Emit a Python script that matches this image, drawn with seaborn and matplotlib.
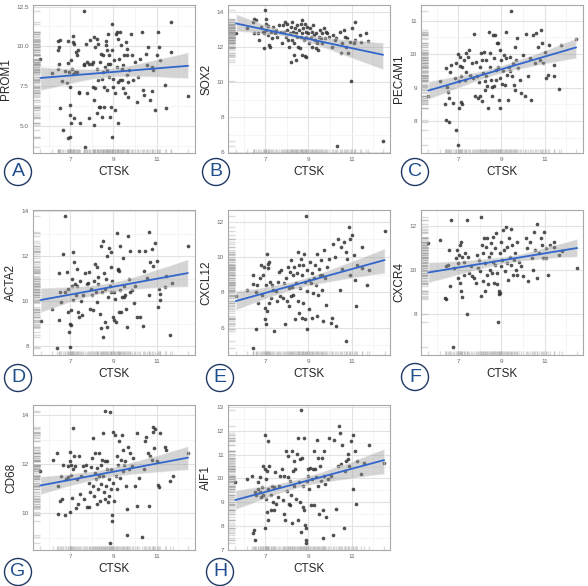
import matplotlib
matplotlib.use("Agg")
import matplotlib.pyplot as plt
from matplotlib.patches import Circle
from matplotlib.ticker import MultipleLocator, AutoMinorLocator, FormatStrFormatter
import seaborn as sns

# values (CTSK on x, gene on y)
prom1_ctsk = [5.62,6.15,6.42,6.46,6.42,6.54,6.5,6.5,6.54,6.65,6.6,6.77,6.85,6.88,6.92,6.95,6.98,7.0,7.0,7.03,6.92,7.0,7.05,7.08,7.11,7.15,7.11,7.18,7.23,7.31,7.28,7.18,7.34,7.38,7.43,7.43,7.46,7.65,7.62,7.62,7.69,7.74,7.77,7.8,7.85,7.88,7.92,8.0,8.05,8.08,8.11,8.12,8.12,8.15,8.15,8.23,8.23,8.26,8.31,8.31,8.34,8.38,8.38,8.42,8.46,8.46,8.51,8.54,8.57,8.58,8.62,8.65,8.66,8.69,8.72,8.72,8.75,8.77,8.8,8.82,8.85,8.85,8.88,8.92,8.92,8.92,8.97,9.0,9.03,9.08,9.08,9.12,9.15,9.18,9.2,9.23,9.23,9.28,9.31,9.31,9.34,9.38,9.38,9.43,9.46,9.49,9.54,9.58,9.62,9.62,9.65,9.69,9.69,9.74,9.8,9.85,9.92,10.0,10.08,10.15,10.23,10.31,10.38,10.42,10.51,10.54,10.62,10.69,10.77,10.77,10.85,10.92,11.0,11.08,11.12,11.15,11.38,11.46,11.65,11.69,12.46]
prom1 = [9.19,8.33,8.6,9.75,10.33,10.38,9.96,8.92,6.15,4.75,7.81,8.46,7.67,10.33,8.98,8.4,7.46,6.31,5.69,5.17,4.23,4.3,9.17,8.6,8.29,10.63,10.27,10.17,8.4,9.44,9.65,5.48,8.4,9.75,7.15,7.04,5.17,12.25,8.81,8.92,3.7,10.17,9.02,7.04,8.92,5.48,10.38,8.88,7.46,9.02,10.58,6.62,5.06,9.96,7.36,10.48,8.6,5.79,10.17,7.88,6.21,9.02,6.21,9.54,7.98,5.58,8.4,9.44,7.46,6.21,8.71,10.31,10.06,9.75,8.5,7.25,8.92,10.79,8.08,9.44,8.92,5.58,6.21,9.75,11.42,4.33,7.46,7.98,9.12,7.04,6.0,10.79,10.9,8.71,7.77,5.17,10.48,9.23,7.88,10.9,10.06,8.6,7.88,7.36,8.81,9.44,7.04,10.27,9.85,8.19,9.44,7.77,6.79,8.5,10.79,9.44,7.88,9.02,6.52,8.08,9.23,10.9,7.25,6.94,9.54,8.81,9.96,6.62,7.21,8.71,8.5,6.0,9.44,10.9,9.96,9.12,7.56,6.1,11.52,9.65,6.88]

sox2_ctsk = [5.65,6.18,6.42,6.49,6.57,6.49,6.65,6.72,6.8,6.88,6.95,7.0,7.03,7.06,6.95,7.06,7.11,7.15,7.18,7.22,7.26,7.34,7.37,7.46,7.49,7.57,7.65,7.72,7.77,7.83,7.88,7.92,7.95,8.03,8.03,8.08,8.11,8.14,8.18,8.18,8.23,8.26,8.29,8.34,8.34,8.38,8.42,8.45,8.49,8.49,8.54,8.57,8.6,8.65,8.65,8.69,8.72,8.72,8.75,8.8,8.85,8.85,8.88,8.91,8.91,8.95,9.0,9.03,9.06,9.11,9.15,9.18,9.22,9.26,9.31,9.34,9.37,9.42,9.46,9.49,9.52,9.57,9.62,9.65,9.72,9.77,9.8,9.88,9.95,10.08,10.14,10.23,10.26,10.34,10.45,10.49,10.57,10.65,10.69,10.72,10.8,10.85,10.91,10.97,11.03,11.11,11.15,11.18,11.37,11.42,11.65,11.77,12.46]
sox2 = [12.78,13.06,13.44,13.62,13.53,12.78,12.78,12.4,13.15,12.87,12.78,14.09,13.62,13.34,11.93,12.96,12.68,13.19,12.12,12.02,12.87,12.49,13.15,12.78,12.96,12.59,13.25,12.87,12.21,13.25,12.87,13.44,12.59,13.34,12.96,12.4,12.02,12.78,11.14,13.15,12.4,13.44,12.87,11.55,12.21,13.06,12.78,11.27,13.25,12.59,12.02,12.96,11.93,13.34,12.59,11.55,13.53,12.78,13.06,12.4,13.34,11.46,12.87,11.42,12.59,13.15,12.78,12.21,13.06,12.59,12.87,12.02,13.25,12.68,12.4,12.78,11.93,12.21,11.83,12.59,12.96,12.49,12.21,12.78,13.06,12.49,12.87,12.78,12.59,12.02,12.68,12.4,12.49,6.37,12.87,11.65,12.21,12.96,12.59,12.02,12.49,11.68,12.31,10.05,13.06,12.21,13.44,12.4,12.68,12.31,12.81,12.36,6.66]

pecam1_ctsk = [5.62,6.15,6.38,6.42,6.57,6.49,6.46,6.54,6.57,6.65,6.62,6.77,6.85,6.89,6.92,7.0,7.0,7.03,7.05,7.08,7.08,7.11,7.12,7.2,7.2,7.26,7.31,7.35,7.38,7.46,7.51,7.57,7.62,7.69,7.72,7.77,7.82,7.88,7.92,7.97,8.0,8.03,8.08,8.11,8.12,8.15,8.18,8.22,8.25,8.28,8.31,8.34,8.38,8.43,8.46,8.49,8.52,8.55,8.58,8.62,8.65,8.68,8.71,8.74,8.77,8.8,8.85,8.86,8.89,8.92,8.92,8.95,9.0,9.03,9.08,9.11,9.15,9.2,9.23,9.26,9.31,9.34,9.38,9.42,9.46,9.49,9.54,9.57,9.62,9.65,9.69,9.72,9.77,9.85,9.92,10.0,10.08,10.12,10.23,10.31,10.38,10.46,10.54,10.62,10.69,10.77,10.85,10.89,10.95,11.0,11.08,11.15,11.2,11.42,11.46,11.69,11.77,12.46]
pecam1 = [8.76,9.19,8.52,8.03,7.97,9.02,9.58,8.86,8.69,9.68,9.46,8.54,9.29,9.75,7.75,7.29,10.0,9.19,8.4,9.93,9.65,8.56,9.36,9.63,8.52,9.83,9.24,10.05,9.46,9.93,10.13,9.39,9.73,9.29,10.6,8.76,9.78,9.34,8.69,9.16,9.63,8.74,10.03,8.59,9.83,9.44,10.08,9.19,8.94,9.83,9.34,9.06,8.4,10.67,9.63,10.03,9.24,9.02,8.74,10.57,9.88,9.04,10.57,9.53,9.22,10.33,9.63,10.33,8.64,8.4,9.29,10.13,9.83,9.12,9.51,9.98,9.09,9.88,10.65,9.39,8.64,9.63,9.93,9.49,11.29,9.34,9.73,9.09,10.23,8.92,9.83,10.48,9.58,9.24,8.84,9.98,8.74,10.6,9.34,9.88,8.64,10.57,9.73,10.62,10.23,9.83,10.72,10.33,9.73,10.08,9.29,9.39,10.28,9.68,9.36,8.96,10.28,10.45]

acta2_ctsk = [5.63,6.16,6.39,6.47,6.47,6.54,6.59,6.66,6.77,6.77,6.85,6.89,6.92,6.95,7.0,7.0,7.03,7.05,7.08,7.08,7.11,7.15,7.2,7.23,7.26,7.31,7.34,7.38,7.41,7.46,7.5,7.53,7.61,7.69,7.76,7.81,7.87,7.92,7.96,8.02,8.07,8.11,8.15,8.18,8.22,8.25,8.28,8.31,8.37,8.41,8.45,8.48,8.52,8.52,8.57,8.6,8.63,8.68,8.71,8.72,8.75,8.78,8.83,8.87,8.9,8.9,8.93,8.98,9.02,9.05,9.08,9.13,9.17,9.2,9.22,9.25,9.25,9.3,9.33,9.37,9.41,9.46,9.48,9.51,9.55,9.6,9.63,9.66,9.71,9.76,9.79,9.86,9.94,10.02,10.09,10.21,10.24,10.37,10.43,10.47,10.55,10.63,10.67,10.7,10.77,10.85,10.92,11.0,11.08,11.12,11.15,11.18,11.38,11.45,11.63,11.73,12.45]
acta2 = [9.12,9.66,7.9,9.15,11.25,10.4,9.96,12.09,13.78,10.4,11.31,9.51,10.54,8.63,9.0,7.97,9.59,8.93,10.99,10.69,12.16,10.06,11.72,10.76,10.25,11.43,10.69,9.51,9.29,10.87,9.99,9.37,10.25,11.25,10.76,10.81,11.28,9.66,10.54,10.25,9.59,10.91,11.65,10.4,11.5,9.96,10.76,11.06,9.44,12.46,8.78,10.4,12.68,8.41,11.25,10.54,9.07,10.99,12.01,8.85,10.18,12.38,10.69,11.5,12.16,10.4,10.91,9.29,9.15,10.4,10.1,9.07,13.01,11.4,11.43,11.35,9.51,12.46,10.47,9.51,10.18,11.9,10.69,10.18,10.25,9.66,8.85,12.9,10.99,12.24,10.4,10.47,9.93,10.69,9.29,12.24,9.29,8.9,11.35,12.24,11.01,13.07,10.28,11.72,12.31,11.57,12.57,11.79,9.74,10.54,10.03,10.32,10.62,11.13,8.51,10.81,12.46]

cxcl12_ctsk = [5.64,6.16,6.43,6.43,6.46,6.56,6.56,6.62,6.68,6.74,6.82,6.86,6.89,6.94,6.97,7.0,7.02,7.05,7.08,7.09,7.12,7.15,7.17,7.2,7.23,7.28,7.32,7.38,7.43,7.48,7.54,7.58,7.66,7.69,7.74,7.81,7.89,7.93,7.97,8.0,8.04,8.09,8.12,8.15,8.18,8.21,8.24,8.27,8.3,8.35,8.39,8.43,8.46,8.5,8.53,8.55,8.58,8.61,8.66,8.69,8.7,8.73,8.76,8.81,8.84,8.85,8.89,8.92,8.95,8.96,9.01,9.04,9.07,9.11,9.16,9.19,9.22,9.27,9.31,9.34,9.38,9.42,9.45,9.5,9.53,9.57,9.62,9.65,9.68,9.73,9.77,9.8,9.88,9.96,10.03,10.11,10.14,10.23,10.3,10.39,10.45,10.49,10.57,10.65,10.72,10.75,10.8,10.88,10.91,10.95,11.03,11.11,11.16,11.21,11.26,11.49,11.49,11.72,11.8,12.53]
cxcl12 = [7.77,8.14,8.98,8.46,4.85,5.91,8.01,8.42,7.4,8.8,9.54,7.86,8.98,9.45,7.12,6.47,6.19,8.42,6.93,10.19,9.39,9.63,7.4,9.72,8.61,7.68,8.42,8.14,5.81,8.05,7.49,8.61,9.17,7.77,9.26,7.68,8.52,6.19,8.8,7.49,9.45,8.24,7.21,9.17,7.77,9.82,8.33,8.98,7.86,9.45,6.47,8.52,9.08,10.29,7.49,6.84,9.54,8.24,9.91,6.56,8.98,7.4,9.54,10.19,8.61,6.47,12.34,9.26,5.91,8.05,8.7,7.03,9.72,8.52,6.56,9.08,7.96,8.8,9.54,8.42,6.65,10.19,7.86,9.35,8.98,9.82,8.14,8.98,6.37,10.38,8.8,7.3,9.45,9.91,6.28,6.56,10.75,10.0,6.09,11.03,8.14,10.57,9.35,10.84,5.26,10.29,9.91,11.68,11.03,8.98,11.25,10.1,8.7,7.21,9.54,10.57,9.39,8.42,9.26,11.5]

cxcr4_ctsk = [5.62,6.17,6.38,6.43,6.43,6.54,6.58,6.63,6.66,6.74,6.82,6.89,6.94,6.97,7.0,7.05,7.08,7.09,7.12,7.15,7.18,7.2,7.25,7.28,7.31,7.4,7.43,7.46,7.51,7.58,7.66,7.74,7.82,7.86,7.92,7.97,8.02,8.05,8.08,8.11,8.14,8.17,8.2,8.23,8.26,8.29,8.32,8.35,8.38,8.43,8.46,8.51,8.54,8.57,8.6,8.63,8.66,8.69,8.72,8.75,8.78,8.82,8.85,8.89,8.91,8.94,8.94,8.97,9.0,9.05,9.09,9.12,9.15,9.2,9.25,9.28,9.31,9.35,9.38,9.43,9.46,9.51,9.55,9.58,9.62,9.66,9.71,9.74,9.82,9.92,10.02,10.12,10.2,10.23,10.32,10.43,10.48,10.51,10.58,10.63,10.66,10.74,10.82,10.89,10.94,10.97,11.05,11.09,11.15,11.25,11.43,11.46,11.66,11.82,12.51]
cxcr4 = [11.22,11.37,8.72,8.65,10.16,10.23,10.91,9.25,12.27,6.46,10.08,10.54,10.91,9.63,10.31,10.69,9.4,11.14,9.03,11.29,10.61,8.75,9.78,10.38,10.76,7.97,12.27,10.61,9.86,10.16,9.71,9.63,9.4,10.69,10.08,10.46,9.93,8.8,12.42,11.14,9.48,10.76,11.44,10.31,9.03,11.06,9.78,11.44,9.33,10.61,10.01,11.22,10.76,9.86,11.52,10.38,9.4,10.99,10.23,11.67,9.86,9.36,7.59,9.03,8.88,8.95,10.76,11.29,10.16,10.46,11.82,10.91,9.93,11.97,10.31,11.06,9.55,11.44,10.61,10.23,11.89,11.14,9.78,10.46,10.76,10.01,11.29,9.78,10.38,10.16,9.71,11.47,10.99,9.48,11.29,10.54,10.01,11.74,10.91,12.12,9.63,10.76,11.44,11.14,10.54,11.74,10.99,10.54,9.78,11.14,11.29,11.06,10.69,10.84,10.08]

cd68_ctsk = [5.62,6.2,6.38,6.42,6.46,6.54,6.57,6.62,6.66,6.77,6.82,6.88,6.92,6.97,7.0,7.0,7.03,7.06,7.09,7.12,7.15,7.18,7.23,7.28,7.34,7.38,7.43,7.46,7.49,7.58,7.65,7.69,7.74,7.8,7.85,7.89,7.92,7.95,8.0,8.05,8.08,8.11,8.14,8.17,8.2,8.23,8.26,8.29,8.32,8.35,8.38,8.42,8.45,8.48,8.51,8.54,8.57,8.6,8.63,8.63,8.66,8.69,8.72,8.75,8.78,8.82,8.85,8.85,8.88,8.91,8.94,8.95,8.97,9.0,9.03,9.08,9.12,9.15,9.18,9.23,9.28,9.31,9.34,9.38,9.43,9.46,9.49,9.54,9.58,9.62,9.65,9.68,9.71,9.77,9.85,9.92,9.99,10.08,10.11,10.2,10.31,10.42,10.46,10.51,10.62,10.66,10.69,10.77,10.82,10.85,10.88,10.92,11.0,11.08,11.12,11.18,11.38,11.46,11.62,11.74,12.46]
cd68 = [11.74,12.19,12.46,11.11,9.97,10.51,11.52,10.58,11.99,9.93,11.38,11.92,11.49,12.52,12.12,10.04,11.99,11.58,10.64,11.79,13.5,12.32,11.92,10.2,11.38,10.38,12.32,10.78,11.52,11.92,10.58,11.72,11.99,10.24,11.25,10.24,10.85,11.89,12.26,11.11,13.06,10.71,11.65,12.46,11.38,10.38,11.85,10.98,12.46,11.52,10.51,11.99,11.18,12.19,13.29,11.52,10.85,12.12,14.16,10.58,11.11,11.79,12.12,10.44,11.38,10.71,14.13,8.77,10.98,11.79,9.7,9.91,13.33,11.25,10.51,13.19,11.52,10.98,12.32,11.99,12.93,11.45,12.19,13.19,12.59,11.72,11.99,12.12,11.11,9.1,10.17,12.72,11.79,12.46,11.92,12.26,11.11,10.31,13.26,11.45,9.03,11.79,12.93,13.13,12.46,10.31,12.32,12.19,13.33,13.53,12.66,13.42,12.12,11.14,11.09,13.26,12.72,12.59,11.32,11.54,12.46]

aif1_ctsk = [5.62,6.17,6.38,6.43,6.48,6.51,6.54,6.58,6.66,6.69,6.74,6.78,6.82,6.85,6.89,6.92,6.97,7.0,7.0,7.03,7.05,7.08,7.09,7.12,7.15,7.15,7.2,7.25,7.28,7.31,7.35,7.4,7.43,7.46,7.51,7.58,7.66,7.71,7.77,7.82,7.86,7.89,7.92,7.97,8.02,8.05,8.08,8.11,8.14,8.17,8.2,8.23,8.26,8.29,8.32,8.35,8.38,8.43,8.48,8.51,8.54,8.57,8.6,8.63,8.66,8.66,8.69,8.74,8.75,8.78,8.82,8.85,8.88,8.89,8.91,8.94,8.97,9.0,9.05,9.09,9.12,9.15,9.2,9.25,9.28,9.31,9.35,9.4,9.43,9.46,9.51,9.55,9.58,9.62,9.66,9.69,9.71,9.74,9.77,9.82,9.89,9.97,10.05,10.12,10.2,10.28,10.35,10.43,10.48,10.51,10.58,10.66,10.69,10.74,10.82,10.85,10.89,10.97,11.05,11.09,11.15,11.2,11.25,11.43,11.58,11.82,12.51]
aif1 = [9.87,9.98,10.12,7.69,7.83,9.43,7.42,9.29,9.84,9.56,9.43,10.05,9.22,9.63,10.53,9.29,11.85,10.4,7.9,9.98,9.15,8.59,10.33,9.56,11.57,8.25,10.53,9.29,8.66,9.7,9.01,9.63,8.66,10.26,8.94,9.22,9.7,10.12,10.4,9.08,10.12,8.52,8.25,11.16,9.49,10.95,10.05,8.94,9.91,8.87,9.29,8.11,11.16,10.33,10.74,9.7,10.4,9.15,11.02,8.25,11.71,9.84,10.81,9.01,12.89,7.76,10.88,9.7,8.8,8.66,11.71,8.04,7.9,7.28,7.42,9.91,10.4,10.12,9.56,10.46,8.87,9.98,10.4,11.16,8.87,10.4,10.05,11.64,9.7,10.88,8.52,10.53,9.91,10.88,8.66,7.49,10.12,11.16,9.77,8.39,9.98,11.71,10.12,7.62,11.64,8.73,10.53,12.2,11.92,10.6,11.43,7.9,10.33,10.74,11.02,10.81,10.53,11.57,11.85,9.56,11.16,8.94,10.74,10.19,10.67,11.43,10.67]

genes = ["PROM1", "SOX2", "PECAM1", "ACTA2", "CXCL12", "CXCR4", "CD68", "AIF1"]
letters = ["A", "B", "C", "D", "E", "F", "G", "H"]
xvals = [prom1_ctsk, sox2_ctsk, pecam1_ctsk, acta2_ctsk, cxcl12_ctsk, cxcr4_ctsk, cd68_ctsk, aif1_ctsk]
yvals = [prom1, sox2, pecam1, acta2, cxcl12, cxcr4, cd68, aif1]
ylims = [(3.3, 12.6), (5.95, 14.4), (7.05, 11.47), (7.6, 14.05), (4.45, 12.67), (6.1, 12.74), (8.5, 14.42), (6.98, 13.1)]
yticks = [[5.0, 7.5, 10.0, 12.5], [6, 8, 10, 12, 14], [8, 9, 10, 11], [8, 10, 12, 14],
          [6, 8, 10, 12], [8, 10, 12], [10, 12, 14], [7, 8, 9, 10, 11, 12, 13]]

sns.set_style("white")
plt.rcParams["font.family"] = ["Liberation Sans", "DejaVu Sans"]

W, H = 588, 586
fig = plt.figure(figsize=(W / 100, H / 100), dpi=100)

lefts = [33, 228, 421]
tops = [5, 210, 405]
heights = [148, 145, 145]
circles = [(18, 172), (216, 172), (415, 172), (18, 378), (220, 378), (415, 377), (18, 572), (220, 572)]

for i, gene in enumerate(genes):
    r, c = divmod(i, 3)
    ax = fig.add_axes([lefts[c] / W, 1 - (tops[r] + heights[r]) / H, 162 / W, heights[r] / H])
    n = min(len(xvals[i]), len(yvals[i]))
    xs, ys = xvals[i][:n], yvals[i][:n]

    sns.regplot(x=xs, y=ys, ax=ax, scatter=False, ci=95, color="#3366cc",
                line_kws={"lw": 1.3, "zorder": 4})
    for coll in ax.collections:
        coll.set_facecolor("#9a9a9a")
        coll.set_alpha(0.42)
        coll.set_zorder(3)
    sns.scatterplot(x=xs, y=ys, ax=ax, s=7, color="#333333", alpha=0.85, linewidth=0, zorder=2)
    sns.rugplot(x=xs, ax=ax, height=0.03, color="#9a9a9a", alpha=0.35, lw=0.5)
    sns.rugplot(y=ys, ax=ax, height=0.045, color="#9a9a9a", alpha=0.35, lw=0.5)

    ax.set_xlim(5.28, 12.78)
    ax.set_ylim(*ylims[i])
    ax.set_xticks([7, 9, 11])
    ax.xaxis.set_minor_locator(MultipleLocator(1))
    ax.set_yticks(yticks[i])
    ax.yaxis.set_minor_locator(AutoMinorLocator(2))
    if i == 0:
        ax.yaxis.set_major_formatter(FormatStrFormatter("%.1f"))
    ax.grid(which="major", color="#e2e2e2", lw=0.8)
    ax.grid(which="minor", color="#f1f1f1", lw=0.5)
    ax.set_axisbelow(True)
    ax.tick_params(which="major", labelsize=4.6, colors="#666666", length=2, width=0.5, pad=1)
    ax.tick_params(which="minor", length=0)
    for sp in ax.spines.values():
        sp.set_color("#a8a8a8")
        sp.set_linewidth(0.8)
    ax.set_xlabel("CTSK", fontsize=8.5, labelpad=3)
    ax.set_ylabel(gene, fontsize=8.5, labelpad=3)

    cx, cy = circles[i]
    fig.add_artist(Circle((cx / 100, (H - cy) / 100), 0.135, transform=fig.dpi_scale_trans,
                          facecolor="white", edgecolor="#1f3864", lw=1.0))
    fig.text(cx / W, 1 - cy / H, letters[i], ha="center", va="center",
             fontsize=14, color="#1f4e8c")

fig.savefig("out.png", dpi=100)
